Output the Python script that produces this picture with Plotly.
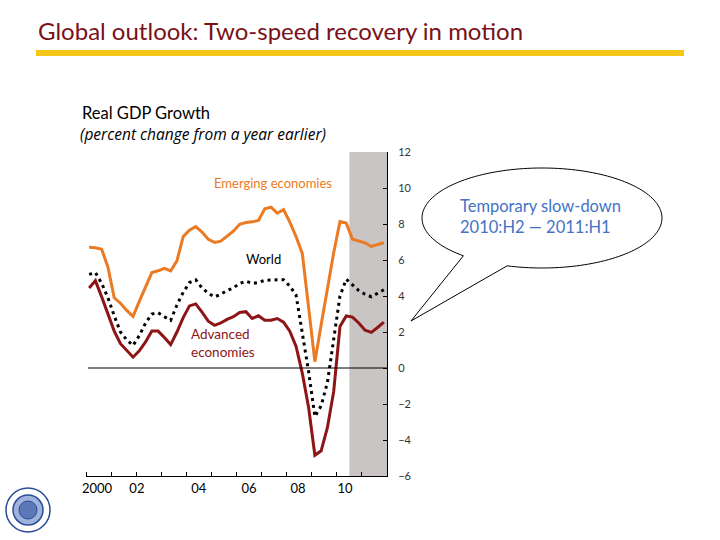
import math
import plotly.graph_objects as go

# ---------------- data ----------------
quarters = [f"{y}Q{q}" for y in range(2000, 2012) for q in range(1, 5)]

emerging = [6.71, 6.68, 6.60, 5.60, 3.90, 3.60, 3.20, 2.87,
            3.70, 4.50, 5.30, 5.40, 5.53, 5.40, 5.95, 7.30,
            7.65, 7.85, 7.55, 7.15, 6.98, 7.05, 7.30, 7.60,
            7.98, 8.08, 8.12, 8.20, 8.85, 8.93, 8.60, 8.80,
            8.10, 7.30, 6.35, 3.40, 0.35, 2.40, 4.40, 6.40,
            8.13, 8.05, 7.15, 7.05, 6.95, 6.75, 6.85, 6.96]

world = [5.20, 5.30, 4.70, 3.90, 2.90, 2.00, 1.56, 1.25,
         1.80, 2.50, 3.00, 3.07, 2.85, 2.65, 3.50, 4.20,
         4.75, 4.90, 4.45, 4.15, 3.95, 4.10, 4.30, 4.45,
         4.70, 4.82, 4.70, 4.75, 4.87, 4.90, 4.90, 4.90,
         4.55, 4.05, 1.90, -0.20, -2.70, -2.10, -0.80, 1.57,
         4.00, 4.93, 4.60, 4.30, 4.10, 3.96, 4.15, 4.35]

advanced = [4.45, 4.85, 3.95, 3.00, 2.05, 1.35, 1.00, 0.60,
            0.95, 1.45, 2.05, 2.05, 1.70, 1.30, 2.00, 2.80,
            3.45, 3.56, 3.10, 2.60, 2.37, 2.50, 2.70, 2.85,
            3.08, 3.13, 2.75, 2.90, 2.65, 2.65, 2.75, 2.55,
            2.05, 1.20, -0.30, -2.20, -4.85, -4.60, -3.30, -1.30,
            2.30, 2.89, 2.83, 2.50, 2.10, 1.98, 2.25, 2.55]

tick_labels = ["2000", "02", "04", "06", "08", "10"]
tick_label_pos = [2000.44, 2002.03, 2004.5, 2006.5, 2008.45, 2010.33]
shade_start, shade_end = 2010.5, 2012.0

# quarter label -> fractional year (mid-quarter)
xq = [int(s[:4]) + (int(s[-1]) - 0.5) / 4 for s in quarters]

# ---------------- geometry helpers (pixel -> paper) ----------------
L, R, T, B = 86, 387, 152, 476
W, H = R - L, B - T


def px(x):
    return (x - L) / W


def py(y):
    return (B - y) / H


ORANGE = "#EC7A23"
DARKRED = "#8E1516"
BLUE = "#4472C4"

fig = go.Figure()

fig.add_trace(go.Scatter(x=xq, y=emerging, mode="lines",
                         line=dict(color=ORANGE, width=3), name="Emerging economies"))
fig.add_trace(go.Scatter(x=xq, y=world, mode="lines",
                         line=dict(color="black", width=3, dash="3px,4px"), name="World"))
fig.add_trace(go.Scatter(x=xq, y=advanced, mode="lines",
                         line=dict(color=DARKRED, width=3), name="Advanced economies"))

shapes = []
# shaded projection period
shapes.append(dict(type="rect", xref="x", yref="paper", x0=shade_start, x1=shade_end,
                   y0=0, y1=1, fillcolor="#C9C5C4", line=dict(width=0), layer="below"))
# zero line
shapes.append(dict(type="line", xref="x", yref="y", x0=2000.08, x1=2012, y0=0, y1=0,
                   line=dict(color="black", width=1)))
# title underline bar
shapes.append(dict(type="rect", xref="paper", yref="paper", x0=px(36), x1=px(684),
                   y0=py(56), y1=py(50), fillcolor="#F5C518", line=dict(width=0)))

# speech bubble (ellipse + tail)
cx, cy, rx, ry = 542, 218, 120, 50
b1 = (465, 255)
b2 = (507, 266)
tip = (411, 321)
a1 = math.atan2((b1[1] - cy) / ry, (b1[0] - cx) / rx)
a2 = math.atan2((b2[1] - cy) / ry, (b2[0] - cx) / rx)
start, end = a1, a2
while end <= start:
    end += 2 * math.pi
n = 160
pts = []
for k in range(n + 1):
    a = start + (end - start) * k / n
    pts.append((cx + rx * math.cos(a), cy + ry * math.sin(a)))
pts.append(tip)
path = "M " + " L ".join(f"{px(x):.5f},{py(y):.5f}" for x, y in pts) + " Z"
shapes.append(dict(type="path", xref="paper", yref="paper", path=path,
                   fillcolor="white", line=dict(color="black", width=1)))

# IMF logo approximation
lx, ly = 28, 510
for r, w, fc in [(22, 1.5, "white"), (15, 1.5, "#9FB2DA"), (9, 1, "#5C78B8")]:
    shapes.append(dict(type="circle", xref="paper", yref="paper",
                       x0=px(lx - r), x1=px(lx + r), y0=py(ly + r), y1=py(ly - r),
                       line=dict(color="#2B4C9B", width=w), fillcolor=fc))

annotations = []


def ann(text, x, y, size, color, xanchor="left", italic=False, family="Lato"):
    annotations.append(dict(text=f"<i>{text}</i>" if italic else text,
                            xref="paper", yref="paper", x=px(x), y=py(y),
                            xanchor=xanchor, yanchor="middle", showarrow=False,
                            font=dict(size=size, color=color, family=family),
                            align="left"))


ann("Global outlook: Two-speed recovery in motion", 36, 31, 24, "#7A1118")
ann("Real GDP Growth", 80, 113, 16.5, "black")
ann("(percent change from a year earlier)", 78, 134, 15.5, "black", italic=True,
    family="Open Sans")
ann("Emerging economies", 273, 183, 13, ORANGE, xanchor="center")
ann("World", 263, 259, 13, "black", xanchor="center")
ann("Advanced<br>economies", 189, 343, 13.5, DARKRED)
ann("Temporary slow-down<br>2010:H2 — 2011:H1", 458, 216, 16.5, BLUE)

fig.update_layout(
    width=720, height=540,
    margin=dict(l=L, r=720 - R, t=T, b=540 - B),
    paper_bgcolor="white", plot_bgcolor="white",
    showlegend=False,
    font=dict(family="Lato", color="black"),
    shapes=shapes,
    annotations=annotations,
    xaxis=dict(range=[2000, 2012], showgrid=False, zeroline=False,
               showline=True, linecolor="black", linewidth=1,
               tickvals=tick_label_pos, ticktext=tick_labels, ticks="",
               tickfont=dict(size=13, color="black", family="Lato"),
               minor=dict(dtick=1, tick0=2000, ticks="inside", ticklen=4,
                          tickcolor="black", showgrid=False)),
    yaxis=dict(range=[-6, 12], side="right", dtick=2, showgrid=False, zeroline=False,
               showline=True, linecolor="black", linewidth=1,
               ticks="inside", ticklen=4, tickcolor="black",
               tickfont=dict(size=11, color="#333333", family="Lato"),
               ticklabelstandoff=8),
)

fig.write_html("out.html", config={"displayModeBar": False},
               post_script="document.body.style.margin='0px';")
